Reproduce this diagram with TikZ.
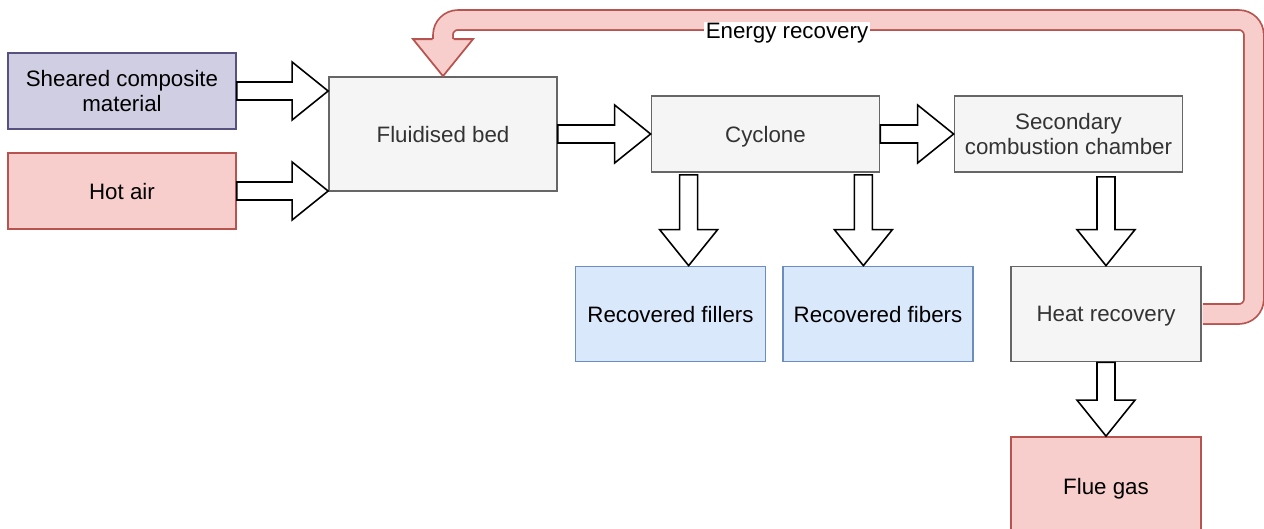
\documentclass[tikz,border=0pt]{standalone}
\usepackage{fontspec}
\setmainfont{Liberation Sans}
\usetikzlibrary{calc,positioning}

\definecolor{greyfill}{HTML}{F5F5F5}
\definecolor{greyline}{HTML}{666666}
\definecolor{greytext}{HTML}{333333}
\definecolor{purplefill}{HTML}{D0CEE2}
\definecolor{purpleline}{HTML}{56517E}
\definecolor{redfill}{HTML}{F8CECC}
\definecolor{redline}{HTML}{B85450}
\definecolor{bluefill}{HTML}{DAE8FC}
\definecolor{blueline}{HTML}{6C8EBF}

% block arrows: #1 start, #2 tip
\newcommand{\rarrow}[2]{\draw[flexarrow] ($(#1)+(0,.18)$) -- ($(#2)+(-.72,.18)$) -- ($(#2)+(-.72,.58)$) -- (#2) -- ($(#2)+(-.72,-.58)$) -- ($(#2)+(-.72,-.18)$) -- ($(#1)+(0,-.18)$) -- cycle;}
\newcommand{\darrow}[2]{\draw[flexarrow] ($(#1)+(-.18,0)$) -- ($(#2)+(-.18,.72)$) -- ($(#2)+(-.58,.72)$) -- (#2) -- ($(#2)+(.58,.72)$) -- ($(#2)+(.18,.72)$) -- ($(#1)+(.18,0)$) -- cycle;}

\begin{document}
\begin{tikzpicture}[font=\fontsize{12.7}{14.5}\selectfont,
    box/.style={draw, line width=1pt, align=center, inner sep=0pt, minimum width=4.56cm, minimum height=1.52cm},
    oneline/.style={text depth=0pt},
    greybox/.style={box, fill=greyfill, draw=greyline, text=greytext},
    outbox/.style={box, oneline, minimum width=3.8cm, minimum height=1.9cm},
    flexarrow/.style={draw=black, fill=white, line width=0.9pt, line join=miter}]
  \useasboundingbox (0,0) rectangle (25.28,-10.56);

  \node[box, fill=purplefill, draw=purpleline] (sheared) at (2.44,-1.82) {Sheared composite\\material};
  \node[box, oneline, fill=redfill, draw=redline] (hotair) at (2.44,-3.82) {Hot air};
  \node[greybox, oneline, minimum height=2.28cm] (fluid) at (8.86,-2.68) {Fluidised bed};
  \node[greybox, oneline] (cyclone) at (15.31,-2.68) {Cyclone};
  \node[greybox] (second) at (21.37,-2.68) {Secondary\\combustion chamber};
  \node[outbox, fill=bluefill, draw=blueline] (fillers) at (13.41,-6.28) {Recovered fillers};
  \node[outbox, fill=bluefill, draw=blueline] (fibers) at (17.56,-6.28) {Recovered fibers};
  \node[outbox, fill=greyfill, draw=greyline, text=greytext] (heat) at (22.12,-6.28) {Heat recovery};
  \node[outbox, fill=redfill, draw=redline, minimum height=1.96cm] (flue) at (22.12,-9.72) {Flue gas};

  \coordinate (t1) at (fluid.west |- sheared.east);
  \coordinate (t2) at (fluid.west |- hotair.east);
  \coordinate (c1) at ($(cyclone.south west)+(.76,-.04)$);
  \coordinate (c2) at ($(cyclone.south east)+(-.34,-.04)$);
  \coordinate (s1) at ($(heat.north |- second.south)+(0,-.08)$);

  \rarrow{sheared.east}{t1}
  \rarrow{hotair.east}{t2}
  \rarrow{fluid.east}{cyclone.west}
  \rarrow{cyclone.east}{second.west}
  \darrow{c1}{c1 |- fillers.north}
  \darrow{c2}{c2 |- fibers.north}
  \darrow{s1}{heat.north}
  \darrow{heat.south}{flue.north}

  \coordinate (e1) at ($(heat.east)+(1.04,0)$);
  \coordinate (top) at (0,-.4);
  \coordinate (base) at ($(fluid.north)+(0,.74)$);
  \draw[draw=redline, double=redfill, double distance=.36cm, line width=1pt, rounded corners=.3cm]
    ($(heat.east)+(.02,0)$) -- (e1) -- (e1 |- top) -- (fluid.north |- top) -- (base);
  \fill[redfill] ($(base)+(-.6,0)$) -- (fluid.north) -- ($(base)+(.6,0)$) -- cycle;
  \draw[redline, line width=1pt, line join=miter] ($(base)+(-.21,0)$) -- ($(base)+(-.6,0)$) -- (fluid.north) -- ($(base)+(.6,0)$) -- ($(base)+(.21,0)$);
  \node[fill=white, inner sep=1pt, text depth=0pt] (energy) at (15.74,-.62) {Energy recovery};
\end{tikzpicture}
\end{document}
